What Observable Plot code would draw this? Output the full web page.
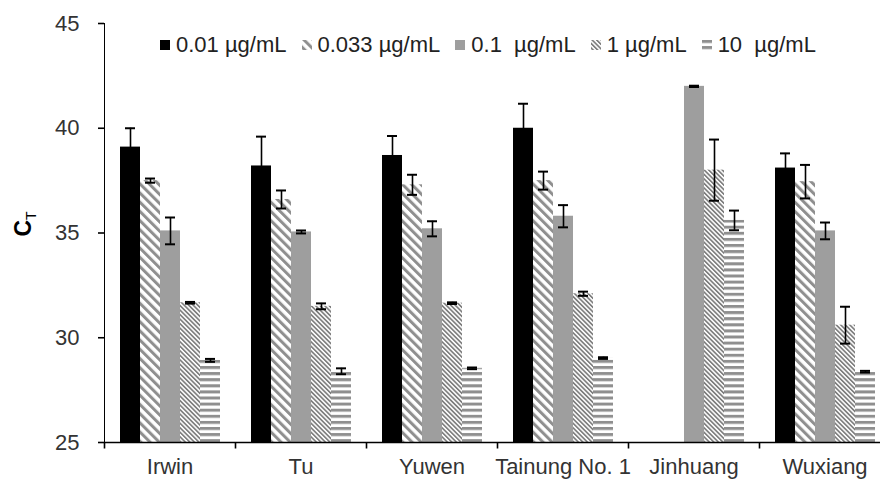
<!DOCTYPE html>
<html><head><meta charset="utf-8">
<script src="https://cdn.jsdelivr.net/npm/d3@7"></script>
<script src="https://cdn.jsdelivr.net/npm/@observablehq/plot@0.6"></script>
<style>
body{margin:0;background:#fff;font-family:"Liberation Sans",Arial,sans-serif;}
#wrap{position:relative;width:880px;height:480px;}
#legend{position:absolute;top:33px;left:160px;display:flex;align-items:center;font-size:22px;color:#222;white-space:pre;line-height:24px;}
.item{display:flex;align-items:center;margin-right:15px}
.sw{width:10px;height:10px;margin-right:6px;display:block}
svg [aria-label="y-axis tick label"], svg [aria-label="fx-axis tick label"]{fill:#333}
svg [aria-label="y-axis tick"]{stroke-width:1.6}
</style></head><body><div id="wrap"><div id="legend"></div></div>
<script>
const cultivars = ["Irwin", "Tu", "Yuwen", "Tainung No. 1", "Jinhuang", "Wuxiang"];
const series = ["0.01 µg/mL", "0.033 µg/mL", "0.1  µg/mL", "1 µg/mL", "10  µg/mL"];
// CT means per series (one value per cultivar; null = no bar)
const ct_001  = [39.1, 38.2, 38.7, 40.0, null, 38.1];
const ct_0033 = [37.5, 36.6, 37.3, 37.5, null, 37.45];
const ct_01   = [35.1, 35.05, 35.2, 35.8, 42.0, 35.1];
const ct_1    = [31.67, 31.5, 31.65, 32.1, 38.0, 30.6];
const ct_10   = [28.92, 28.4, 28.54, 29.03, 35.6, 28.38];
// error bar half-lengths
const er_001  = [0.9, 1.4, 0.93, 1.17, null, 0.7];
const er_0033 = [0.1, 0.43, 0.48, 0.43, null, 0.8];
const er_01   = [0.64, 0.07, 0.36, 0.53, 0.03, 0.4];
const er_1    = [0.04, 0.14, 0.04, 0.1, 1.46, 0.88];
const er_10   = [0.07, 0.14, 0.04, 0.04, 0.47, 0.04];
const yTicks = [25, 30, 35, 40, 45];

const values = [ct_001, ct_0033, ct_01, ct_1, ct_10];
const errors = [er_001, er_0033, er_01, er_1, er_10];
const fills = ["#000000", "url(#p033)", "#9e9e9e", "url(#p1)", "url(#p10)"];

const rows = cultivars.flatMap((c, i) => series.map((s, j) => ({
  cultivar: c, series: s, ct: values[j][i], err: errors[j][i]
}))).filter(d => d.ct != null);

const base = yTicks[0];
const tickSym = {draw(ctx) { ctx.moveTo(0, 0); ctx.lineTo(0, 6); }};

const chart = Plot.plot({
  width: 880, height: 480,
  marginTop: 23, marginBottom: 38, marginLeft: 104, marginRight: -10,
  style: {fontSize: "22px", fontFamily: "Liberation Sans, Arial, sans-serif", color: "#000", background: "#fff"},
  fx: {domain: cultivars, padding: 0, label: null, tickSize: 0, tickPadding: 16, axis: "bottom"},
  x: {domain: series, paddingInner: 0, paddingOuter: 0.74, axis: null},
  y: {domain: [yTicks[0], yTicks[yTicks.length - 1]], ticks: yTicks, tickSize: 6, tickPadding: 19, label: null, line: true},
  color: {domain: series, range: fills},
  marks: [
    Plot.barY(rows, {fx: "cultivar", x: "series", y1: () => base, y2: "ct", fill: "series"}),
    Plot.ruleX(rows, {fx: "cultivar", x: "series", y1: d => d.ct - d.err, y2: d => d.ct + d.err, stroke: "#000", strokeWidth: 1.6}),
    Plot.tickY(rows, {fx: "cultivar", x: "series", y: d => d.ct + d.err, insetLeft: 5, insetRight: 5, stroke: "#000", strokeWidth: 2}),
    Plot.tickY(rows, {fx: "cultivar", x: "series", y: d => d.ct - d.err, insetLeft: 5, insetRight: 5, stroke: "#000", strokeWidth: 2}),
    Plot.ruleY([base], {stroke: "#000", strokeWidth: 1.6}),
    Plot.dot(cultivars, {fx: d => d, frameAnchor: "bottom-left", symbol: tickSym, stroke: "#000", fill: "none", strokeWidth: 1.6})
  ]
});

// patterns
const svg = d3.select(chart);
const defs = svg.insert("defs", ":first-child");
function stripes(id, size, w, angle, color) {
  const p = defs.append("pattern").attr("id", id).attr("patternUnits", "userSpaceOnUse")
    .attr("width", size).attr("height", size).attr("patternTransform", `rotate(${angle})`);
  p.append("rect").attr("width", size).attr("height", size).attr("fill", "#fff");
  p.append("rect").attr("width", w).attr("height", size).attr("fill", color);
}
stripes("p033", 6.5, 3, -45, "#8f8f8f");
stripes("p1", 3.2, 1.7, -45, "#7f7f7f");
stripes("p10", 6.1, 3, 90, "#8f8f8f");

// y label C_T
const lab = svg.append("text").attr("transform", "translate(31,224) rotate(-90)")
  .attr("text-anchor", "middle").attr("fill", "#000").style("font-family", "Liberation Sans, Arial, sans-serif");
lab.append("tspan").text("C").style("font-size", "23px").style("font-weight", "bold");
lab.append("tspan").text("T").style("font-size", "14px").attr("dy", "5");

document.getElementById("wrap").prepend(chart);

// legend
const leg = d3.select("#legend");
series.forEach((s, j) => {
  const it = leg.append("div").attr("class", "item");
  it.append("svg").attr("class", "sw").attr("width", 10).attr("height", 10)
    .append("rect").attr("width", 10).attr("height", 10).attr("fill", fills[j]);
  it.append("span").text(s);
});
</script></body></html>
